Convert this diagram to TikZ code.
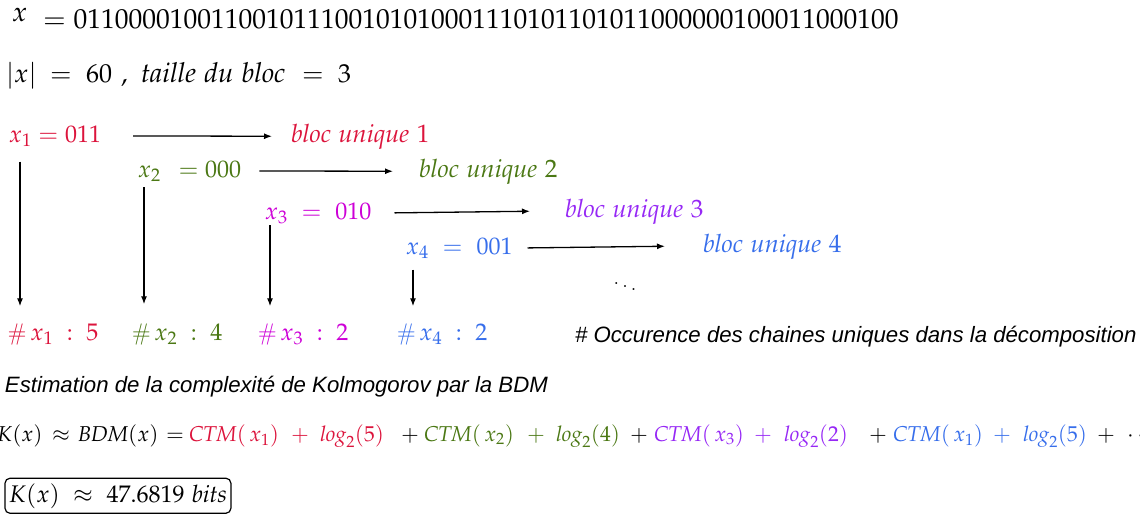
\documentclass[tikz,border=0pt]{standalone}
\usepackage{mathpazo}
\usepackage[no-math]{fontspec}
\newfontfamily\notefont{Liberation Sans}
\usetikzlibrary{arrows.meta}

\definecolor{cred}{RGB}{220,20,60}
\definecolor{cgreen}{RGB}{75,120,20}
\definecolor{cmag}{RGB}{205,0,215}
\definecolor{cviolet}{RGB}{150,40,245}
\definecolor{cblue}{RGB}{55,110,235}

\begin{document}
\begin{tikzpicture}[x=1pt,y=-1pt,
  txt/.style={inner sep=0pt, outer sep=0pt, anchor=base west},
  big/.style={font=\fontsize{27.5}{32}\selectfont},
  lin/.style={font=\fontsize{26}{30}\selectfont},
  lit/.style={font=\fontsize{27.5}{30}\selectfont},
  mid/.style={font=\fontsize{24}{28}\selectfont},
  blk/.style={font=\fontsize{25.2}{29}\selectfont},
  eqn/.style={font=\fontsize{21.5}{25}\selectfont},
  note/.style={font=\fontsize{22.2}{26}\notefont\itshape},
  arr/.style={-{Latex[length=8pt,width=6pt]}, line width=1.3pt}]
\clip (0,0) rectangle (1140,514);

% the string and its parameters
\node[txt,big] (xv) at (12,21) {$x$};
\node[txt,big] (bits) at (43,28) {$=011000010011001011100101010001110101101011000000100011000100$};
\node[txt,lin] (len)  at (6,82)   {$|x|$};
\node[txt,lin] (leq)  at (50,82)  {$=$};
\node[txt,lin] (lval) at (86,82)  {$60$};
\node[txt,lin] (lcom) at (121,82) {$,$};
\node[txt,lit] (bsz)  at (141,82) {$\mathit{taille\ du\ bloc}$};
\node[txt,lin] (beq)  at (302,82) {$=$};
\node[txt,lin] (bval) at (338,82) {$3$};

% blocks of the decomposition
\node[txt,mid,text=cred]    (x1) at (9,142)   {$x_1 = 011$};
\node[txt,blk,text=cred]    (b1) at (291,142) {$\mathit{bloc\ unique}\ 1$};
\node[txt,mid,text=cgreen]  (x2) at (138,177) {$x_2\ \,= 000$};
\node[txt,blk,text=cgreen]  (b2) at (419,177) {$\mathit{bloc\ unique}\ 2$};
\node[txt,mid,text=cmag]    (x3) at (265,219) {$x_3\ =\ 010$};
\node[txt,blk,text=cviolet] (b3) at (565,217) {$\mathit{bloc\ unique}\ 3$};
\node[txt,mid,text=cblue]   (x4) at (406,254) {$x_4\ =\ 001$};
\node[txt,blk,text=cblue]   (b4) at (703,252) {$\mathit{bloc\ unique}\ 4$};
\node[mid] (dots) at (625,284) {$\ddots$};

% occurrence counts
\node[txt,mid,text=cred]    (c1) at (8,340)   {\#\,$x_1\;:\;5$};
\node[txt,mid,text=cgreen]  (c2) at (132,340) {\#\,$x_2\;:\;4$};
\node[txt,mid,text=cmag]    (c3) at (258,340) {\#\,$x_3\;:\;2$};
\node[txt,mid,text=cblue]   (c4) at (397,340) {\#\,$x_4\;:\;2$};
\node[txt,note] (occ) at (575,342) {\# Occurence des chaines uniques dans la décomposition};

% horizontal connectors
\draw[arr] ([xshift=32pt]x1.east) -- ([xshift=-19pt]b1.west);
\draw[arr] ([xshift=18pt]x2.east) -- ([xshift=-26pt]b2.west);
\draw[arr] ([xshift=23pt]x3.east) -- ([xshift=-35pt]b3.west);
\draw[arr] ([xshift=15pt]x4.east) -- ([xshift=-38pt]b4.west);

% vertical connectors
\draw[arr,shorten >=17pt] ([shift={(11pt,-15pt)}]x1.south west) -- ([xshift=11pt]x1.south west |- c1.north);
\draw[arr,shorten >=19pt] ([shift={(6pt,-6pt)}]x2.south west)  -- ([xshift=6pt]x2.south west |- c2.north);
\draw[arr,shorten >=17pt] ([shift={(5pt,-2pt)}]x3.south west)  -- ([xshift=5pt]x3.south west |- c3.north);
\draw[arr,shorten >=17pt] ([shift={(7pt,-11pt)}]x4.south west) -- ([xshift=7pt]x4.south west |- c4.north);

% BDM estimate
\node[txt,note] (est) at (5,392) {Estimation de la complexité de Kolmogorov par la BDM};
\node[txt,eqn] (e1)  at (-3,441)  {$K(x)$};
\node[txt,eqn] (e2)  at (52,441)  {$\approx$};
\node[txt,eqn] (e3)  at (78,441)  {$\mathit{BDM}(x)$};
\node[txt,eqn] (e4)  at (166,441) {$=$};
\node[txt,eqn,text=cred]    (e5)  at (189,441)  {$\mathit{CTM}(\,x_1)$};
\node[txt,eqn,text=cred]    (e6)  at (291,441)  {$+$};
\node[txt,eqn,text=cred]    (e7)  at (320,441)  {$\mathit{log}_2(5)$};
\node[txt,eqn]              (e8)  at (401,441)  {$+$};
\node[txt,eqn,text=cgreen]  (e9)  at (424,441)  {$\mathit{CTM}(\,x_2)$};
\node[txt,eqn,text=cgreen]  (e10) at (527,441)  {$+$};
\node[txt,eqn,text=cgreen]  (e11) at (556,441)  {$\mathit{log}_2(4)$};
\node[txt,eqn]              (e12) at (630,441)  {$+$};
\node[txt,eqn,text=cviolet] (e13) at (654,441)  {$\mathit{CTM}(\,x_3)$};
\node[txt,eqn,text=cviolet] (e14) at (754,441)  {$+$};
\node[txt,eqn,text=cviolet] (e15) at (784,441)  {$\mathit{log}_2(2)$};
\node[txt,eqn]              (e16) at (869,441)  {$+$};
\node[txt,eqn,text=cblue]   (e17) at (893,441)  {$\mathit{CTM}(\,x_1)$};
\node[txt,eqn,text=cblue]   (e18) at (993,441)  {$+$};
\node[txt,eqn,text=cblue]   (e19) at (1023,441) {$\mathit{log}_2(5)$};
\node[txt,eqn]              (e20) at (1097,441) {$+$};
\node[txt,eqn]              (e21) at (1127,441) {$\cdots$};

\node[txt,mid,draw,rounded corners=5pt,line width=1.2pt,inner xsep=4pt,inner ysep=5pt]
  (res) at (5,502) {$K(x)\;\approx\;47.6819\ \mathit{bits}$};
\end{tikzpicture}
\end{document}
